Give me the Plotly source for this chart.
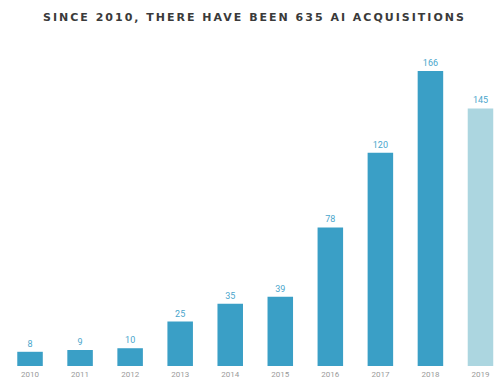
import plotly.graph_objects as go

years = ["2010", "2011", "2012", "2013", "2014", "2015", "2016", "2017", "2018", "2019"]
acquisitions = [8, 9, 10, 25, 35, 39, 78, 120, 166, 145]
title_text = "SINCE 2010, THERE HAVE BEEN 635 AI ACQUISITIONS"

dark = "#3a9fc6"
light = "#acd6e0"
colors = [dark] * 9 + [light]

fig = go.Figure(go.Bar(
    x=years, y=acquisitions,
    marker=dict(color=colors, line=dict(width=0)),
    text=[str(v) for v in acquisitions],
    textposition="outside",
    textfont=dict(size=9, color="#4aa6cc", family="Roboto"),
    cliponaxis=False,
))

fig.update_layout(
    width=499, height=381,
    margin=dict(l=0, r=0, t=0, b=15),
    paper_bgcolor="white", plot_bgcolor="white",
    bargap=0.49,
    showlegend=False,
    title=dict(text=f"<b>{title_text}</b>", x=0.51, xanchor="center",
               y=1 - 17 / 381, yref="container", yanchor="middle",
               font=dict(family="DejaVu Sans", size=11, color="#3a3a3a")),
    xaxis=dict(type="category", range=[-0.6, 9.37], showgrid=False, zeroline=False,
               showline=False, ticks="", tickfont=dict(size=8, color="#9a9a9a", family="Roboto"),
               ticklabelstandoff=2),
    yaxis=dict(range=[0, 206], visible=False),
)

spacing_js = (
    "function _ls(){document.querySelectorAll('.gtitle').forEach(function(e){"
    "e.style.letterSpacing='2px';});}"
    "_ls();var _gd=document.getElementById('{plot_id}');"
    "if(_gd&&_gd.on){_gd.on('plotly_afterplot',_ls);}"
)

fig.write_html("out.html", post_script=spacing_js)
